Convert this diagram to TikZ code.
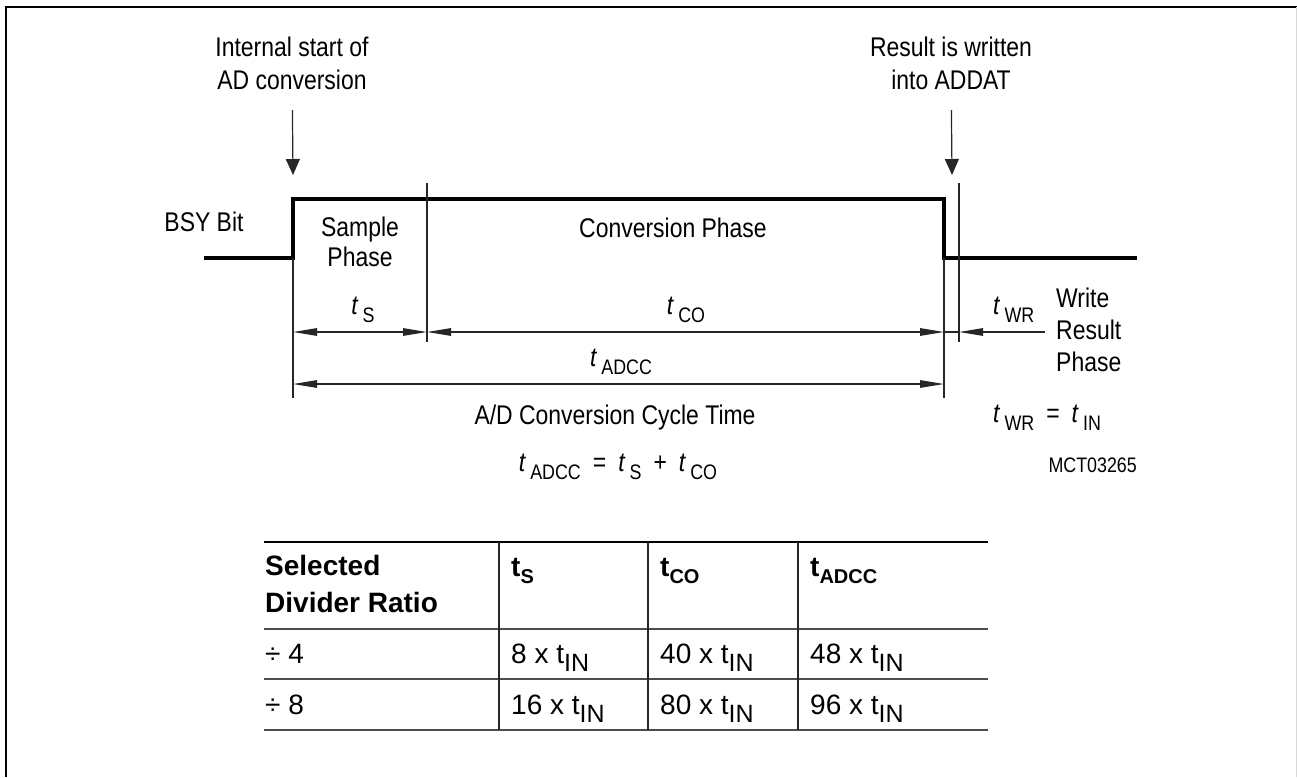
\documentclass[tikz,border=0pt]{standalone}
\usepackage{fontspec}
\setmainfont{Liberation Sans}
\newfontfamily\narrowsf{Liberation Sans}[FakeStretch=0.85]
\usetikzlibrary{arrows.meta}

\newcommand{\tsym}[1]{{\itshape t}\hspace{5pt}\raisebox{-8pt}{\fontsize{21}{21}\selectfont #1}}
\newcommand{\tbsym}[1]{t\raisebox{-7pt}{\fontsize{20}{20}\selectfont #1}}
\newcommand{\tin}{t\raisebox{-8pt}{\fontsize{25}{25}\selectfont IN}}

\begin{document}
\begin{tikzpicture}[x=1pt,y=-1pt,
    lbl/.style={font=\narrowsf\fontsize{27}{33}\selectfont, inner sep=0pt},
    cell/.style={font=\fontsize{28}{37}\selectfont, inner sep=0pt, anchor=base west},
    head/.style={cell, font=\bfseries\fontsize{28}{37}\selectfont},
    signal/.style={line width=4pt, line join=miter},
    guide/.style={line width=1.2pt, black!85},
    dim/.style={guide, {Triangle[length=24pt,width=7.5pt]}-{Triangle[length=24pt,width=7.5pt]}},
    pointer/.style={guide, -{Triangle[length=16pt,width=14pt]}},
    rule/.style={line width=2pt, black!70}]
    \useasboundingbox (0,0) rectangle (1297,777);

    % frame
    \draw[line width=2.7pt] (6,777) -- (6,7) -- (1297,7);
    \draw[line width=1pt, black!15] (1296,7) -- (1296,777);

    % BSY signal
    \coordinate (lowL) at (204,258);
    \coordinate (rise) at (293,258);
    \coordinate (fall) at (944,258);
    \coordinate (lowR) at (1137,258);
    \draw[signal] (lowL) -- (rise) |- (944,199) -- (fall) -- (lowR);

    % extension lines
    \draw[guide] (rise) -- (293,398);
    \draw[guide] (fall) -- (944,398);
    \draw[guide] (427,183) -- (427,342);
    \draw[guide] (959,183) -- (959,342);

    % events
    \node[lbl, align=center, anchor=north] (startlbl) at (292,37) {Internal start of\\AD conversion};
    \node[lbl, align=center, anchor=north] (resultlbl) at (951,37) {Result is written\\into ADDAT};
    \coordinate (startTip) at (293,175);
    \coordinate (resultTip) at (952,175);
    \draw[pointer, shorten <=20pt] (startlbl) -- (startTip);
    \draw[pointer, shorten <=20pt] (resultlbl) -- (resultTip);

    % phase labels
    \node[lbl, anchor=base] (bsy) at (204,231) {BSY Bit};
    \node[lbl, align=center, anchor=north, font=\narrowsf\fontsize{27}{30}\selectfont] (sample) at (360,217) {Sample\\Phase};
    \node[lbl, anchor=base] (conv) at (673,237) {Conversion Phase};
    \node[lbl, align=left, anchor=north west, font=\narrowsf\fontsize{27}{32}\selectfont] (wrphase) at (1056,288) {Write\\Result\\Phase};

    % timing dimensions
    \coordinate (sS) at (293,332);
    \coordinate (sE) at (427,332);
    \coordinate (coE) at (944,332);
    \coordinate (wrE) at (959,332);
    \coordinate (wrT) at (1045,332);
    \coordinate (aS) at (293,384);
    \coordinate (aE) at (944,384);
    \draw[dim] (sS) -- (sE);
    \draw[dim] (sE) -- (coE);
    \draw[guide] (coE) -- (wrE);
    \draw[guide, -{Triangle[length=24pt,width=7.5pt]}] (wrT) -- (wrE);
    \draw[dim] (aS) -- (aE);

    \node[lbl, anchor=base] (ts) at (363,314) {\tsym{S}};
    \node[lbl, anchor=base] (tco) at (686,314) {\tsym{CO}};
    \node[lbl, anchor=base west] (twr) at (993,314) {\tsym{WR}};
    \node[lbl, anchor=base] (tadcc) at (621,366) {\tsym{ADCC}};
    \node[lbl, anchor=base] (cycle) at (615,424) {A/D Conversion Cycle Time};
    \node[lbl, anchor=base] (sum) at (618,471) {\tsym{ADCC}\hspace{12pt}=\hspace{12pt}\tsym{S}\hspace{12pt}+\hspace{12pt}\tsym{CO}};
    \node[lbl, anchor=base west] (twrin) at (993,422) {\tsym{WR}\hspace{12pt}=\hspace{12pt}\tsym{IN}};
    \node[lbl, anchor=base east, font=\narrowsf\fontsize{21}{21}\selectfont] (figid) at (1137,472) {MCT03265};

    % table rules
    \draw[rule, black] (264,542) -- (988,542);
    \foreach \y in {629,679,730} \draw[rule] (264,\y) -- (988,\y);
    \foreach \x in {499,648,798} \draw[guide] (\x,542) -- (\x,730);

    % table header
    \node[head, anchor=north west, align=left] (hdiv) at (265,555) {Selected\\Divider Ratio};
    \node[head] (hts) at (511,576) {\tbsym{S}};
    \node[head] (htco) at (660,576) {\tbsym{CO}};
    \node[head] (htadcc) at (810,576) {\tbsym{ADCC}};

    % table rows
    \foreach \y/\r/\a/\b/\c [count=\i] in {663/4/8/40/48, 714/8/16/80/96} {
        \node[cell] (div\i) at (265,\y) {÷ \r};
        \node[cell] (s\i) at (511,\y) {\a\ x \tin};
        \node[cell] (co\i) at (660,\y) {\b\ x \tin};
        \node[cell] (adcc\i) at (810,\y) {\c\ x \tin};
    }
\end{tikzpicture}
\end{document}
